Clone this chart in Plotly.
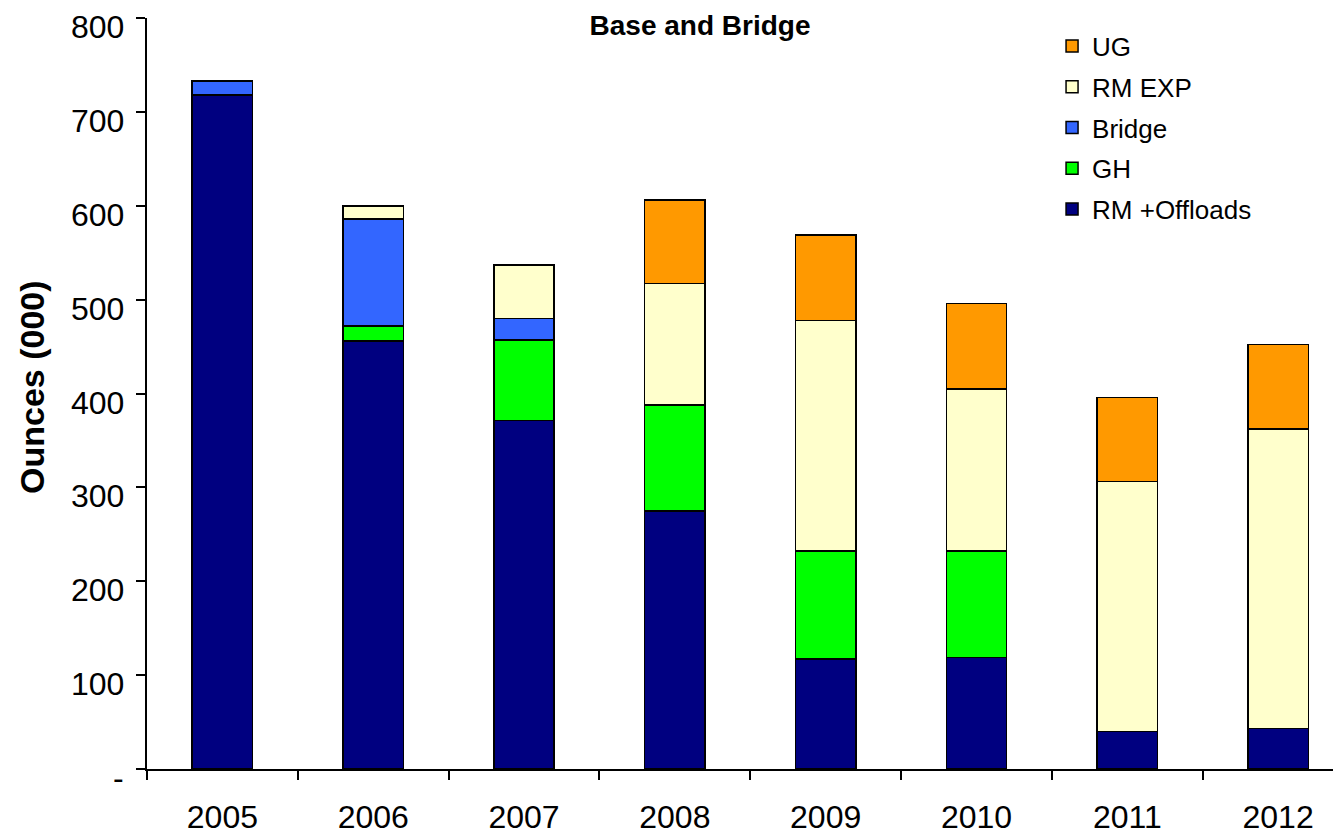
import plotly.graph_objects as go

years = ["2005", "2006", "2007", "2008", "2009", "2010", "2011", "2012"]
rm_offloads = [718, 456, 371, 275, 117, 119, 40, 43]
gh = [None, 16, 86, 113, 115, 113, None, None]
bridge = [15, 114, 23, None, None, None, None, None]
rm_exp = [None, 14, 57, 129, 246, 173, 266, 319]
ug = [None, None, None, 89, 91, 91, 90, 90]

y_tickvals = [0, 100, 200, 300, 400, 500, 600, 700, 800]
y_ticktext = ["-", "100", "200", "300", "400", "500", "600", "700", "800"]

series = [
    ("RM +Offloads", rm_offloads, "#000080", 5),
    ("GH", gh, "#00FF00", 4),
    ("Bridge", bridge, "#3366FF", 3),
    ("RM EXP", rm_exp, "#FFFFCC", 2),
    ("UG", ug, "#FF9900", 1),
]

FONT = "Arial, 'Liberation Sans', sans-serif"

# the page body adds an 8px offset, so the figure is drawn slightly smaller
W, H = 1333, 828

fig = go.Figure()
for name, vals, color, rank in series:
    fig.add_trace(go.Bar(
        x=years, y=vals, name=name, legendgroup=name, legendrank=rank,
        marker=dict(color=color, line=dict(color="black", width=1.5)),
    ))

fig.update_layout(
    width=W, height=H,
    barmode="stack", bargap=0.6,
    paper_bgcolor="white", plot_bgcolor="white",
    margin=dict(l=139, r=0, t=10, b=67, pad=0, autoexpand=False),
    font=dict(family=FONT, color="black"),
    title=dict(text="<b>Base and Bridge</b>", x=692 / W, xref="container",
               y=1 - 17 / H, yref="container", xanchor="center", yanchor="middle",
               font=dict(size=28, family=FONT, color="black")),
    legend=dict(traceorder="grouped", tracegroupgap=4,
                x=0.758, y=0.994, xanchor="left", yanchor="top",
                font=dict(size=26, family=FONT, color="black"),
                bgcolor="rgba(0,0,0,0)", itemclick=False),
    showlegend=True,
)

fig.update_xaxes(
    type="category", range=[-0.5, 7.417], automargin=False,
    showline=True, linecolor="black", linewidth=2,
    ticks="outside", tickson="boundaries", ticklen=9, tickcolor="black", tickwidth=1.5,
    tickfont=dict(size=32, family=FONT, color="black"),
    ticklabelstandoff=19, showgrid=False, zeroline=False,
    ticklabeloverflow="allow",
)
fig.update_yaxes(
    range=[0, 800], tickvals=y_tickvals, automargin=False,
    showline=True, linecolor="black", linewidth=2,
    ticks="outside", ticklen=9, tickcolor="black", tickwidth=1.5,
    showticklabels=False, showgrid=False, zeroline=False,
)

# y tick labels sit slightly below their tick marks in the reference
for v, t in zip(y_tickvals, y_ticktext):
    fig.add_annotation(
        text=t, xref="paper", yref="y", x=0, y=v,
        xanchor="right", yanchor="middle", xshift=-21, yshift=-9,
        showarrow=False, font=dict(size=32, family=FONT, color="black"),
    )

fig.add_annotation(
    text="<b>Ounces (000)</b>", textangle=-90,
    xref="paper", yref="paper", x=(24 - 139) / 1194, y=(761 - 379) / 751,
    xanchor="center", yanchor="middle", showarrow=False,
    font=dict(size=34, family=FONT, color="black"),
)

fig.write_html("out.html")
